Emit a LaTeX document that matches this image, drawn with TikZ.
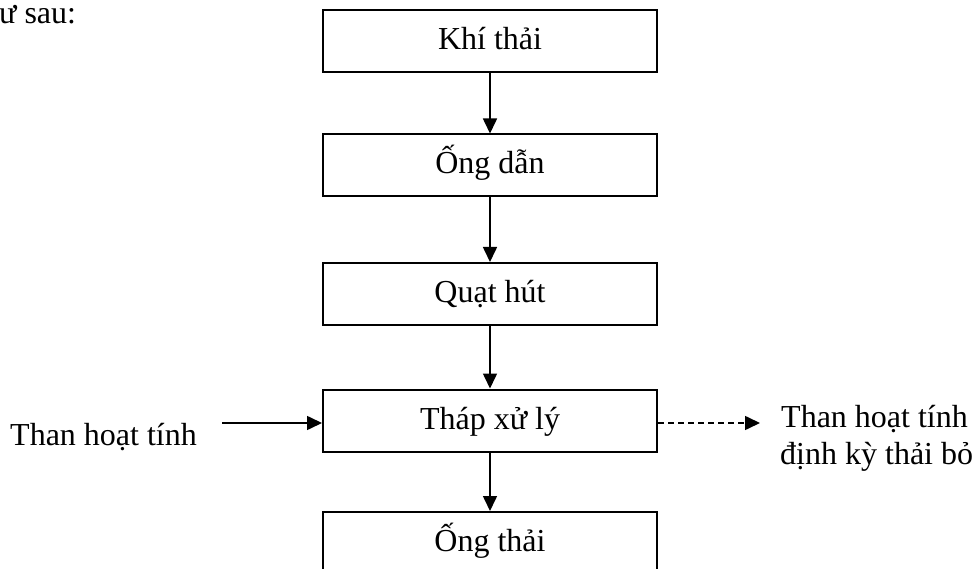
\documentclass[tikz,border=0pt]{standalone}
\usepackage{fontspec}
\setmainfont{Liberation Serif}
\usetikzlibrary{arrows.meta}
\begin{document}
\begin{tikzpicture}[x=1pt,y=-1pt,
  every node/.style={font=\fontsize{32}{38}\selectfont, inner sep=0pt},
  flowbox/.style={draw, line width=2pt, minimum width=334pt, minimum height=62pt, text height=22pt, text depth=5pt},
  arr/.style={line width=1.6pt, -{Triangle[length=15pt,width=14pt]}},
  darr/.style={arr, dash pattern=on 6pt off 4pt}]
\useasboundingbox (0,0) rectangle (980,569);
\begin{scope}
\clip (0,0) rectangle (980,569);
\node (top) [anchor=base west] at (-1,24) {ư sau:};
\node[flowbox] (b1) at (490,41) {Khí thải};
\node[flowbox] (b2) at (490,165.5) {Ống dẫn};
\node[flowbox] (b3) at (490,294) {Quạt hút};
\node[flowbox] (b4) at (490,420.5) {Tháp xử lý};
\node[flowbox] (b5) at (490,543) {Ống thải};
\draw[arr] (b1.south) -- (b2.north);
\draw[arr] (b2.south) -- (b3.north);
\draw[arr] (b3.south) -- (b4.north);
\draw[arr] (b4.south) -- (b5.north);
\node (lt) [anchor=base west] at (10,445) {Than hoạt tính};
\coordinate (ls) at (222,423);
\draw[arr] (ls) -- (ls -| b4.west);
\coordinate (re) at (760,423);
\draw[darr] (re -| b4.east) -- (re);
\node (rt1) [anchor=base west] at (781,427) {Than hoạt tính};
\node (rt2) [anchor=base west] at (780,464) {định kỳ thải bỏ};
\end{scope}
\end{tikzpicture}
\end{document}
